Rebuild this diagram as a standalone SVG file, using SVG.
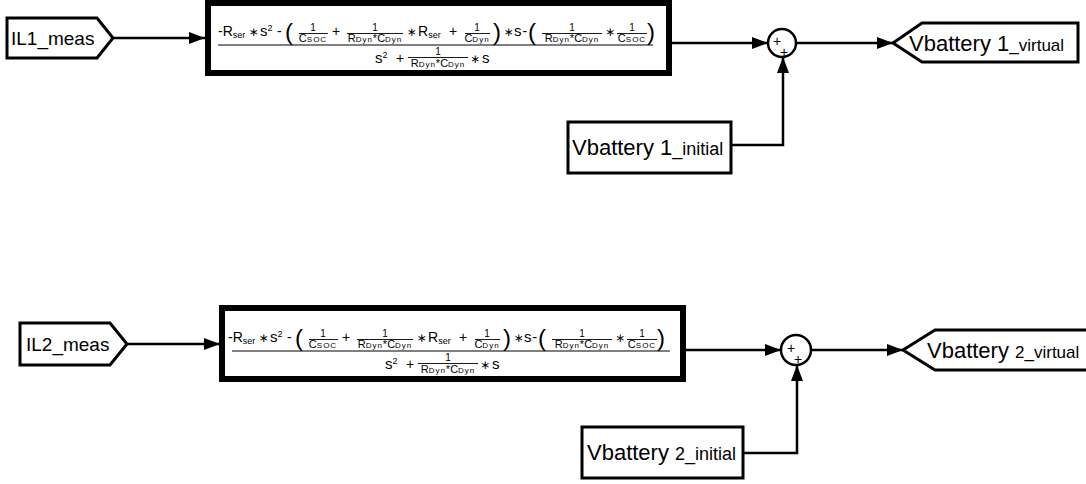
<svg xmlns="http://www.w3.org/2000/svg" width="1086" height="484" viewBox="0 0 1086 484">
<defs>
<style>
.nd{fill:#fff;stroke:#000;stroke-width:3;stroke-linejoin:miter}
.tf{fill:#fff;stroke:#000;stroke-width:6}
.cn{fill:none;stroke:#000;stroke-width:2.5}
.sum{fill:#fff;stroke:#000;stroke-width:2.5}
.lb{font-family:"Liberation Sans",Arial,sans-serif;fill:#000}
.f{font-family:"Liberation Sans",Arial,sans-serif;fill:#000;font-size:14px}
.s{font-family:"Liberation Sans",Arial,sans-serif;fill:#000;font-size:15px}
.as{font-family:"DejaVu Sans",sans-serif;fill:#000;font-size:12px;text-anchor:middle}
.sm{font-family:"Liberation Sans",Arial,sans-serif;fill:#000;font-size:11px;text-anchor:middle}
.one{font-family:"Liberation Sans",Arial,sans-serif;fill:#000;font-size:10px;text-anchor:middle}
.sb{font-size:8px;letter-spacing:1px}
.bar{stroke:#000;stroke-width:0.9}
.mbar{stroke:#000;stroke-width:1.2}
.par{font-family:"Liberation Sans",Arial,sans-serif;fill:#000;font-size:24px}
.pl{font-family:"Liberation Sans",Arial,sans-serif;fill:#000;font-size:14px;text-anchor:middle}
</style>
<marker id="ah" markerUnits="userSpaceOnUse" markerWidth="16" markerHeight="12" refX="16" refY="6" orient="auto">
<path d="M0,0 L16,6 L0,12 z" fill="#000"/>
</marker>
</defs>
<rect width="1086" height="484" fill="#fff"/>

<g id="connectors">
<path class="cn" d="M113,38 H205" marker-end="url(#ah)"/>
<path class="cn" d="M670,43 H768" marker-end="url(#ah)"/>
<path class="cn" d="M796,43 H893" marker-end="url(#ah)"/>
<path class="cn" d="M731,145 H783 V57" marker-end="url(#ah)"/>
<path class="cn" d="M127,344 H220" marker-end="url(#ah)"/>
<path class="cn" d="M684,350 H781" marker-end="url(#ah)"/>
<path class="cn" d="M811,350 H903" marker-end="url(#ah)"/>
<path class="cn" d="M743,453 H797 V365" marker-end="url(#ah)"/>
</g>

<g id="il1">
<path class="nd" d="M7,18 H97 L113,38 L97,58 H7 Z"/>
<text class="lb" x="11" y="45" font-size="19">IL1_meas</text>
</g>

<g id="tf1">
<rect class="tf" x="208" y="3" width="461" height="70"/>
<g id="eq1">
<text class="f" x="218" y="36">-R<tspan font-size="9" dy="2">ser</tspan></text>
<text class="as" x="253.5" y="36">∗</text>
<text class="s" x="260" y="36">s<tspan font-size="9" dy="-5">2</tspan></text>
<text class="f" x="277" y="36">-</text>
<text class="par" x="285" y="40">(</text>
<text class="one" x="313" y="31">1</text><line class="bar" x1="299" y1="33.5" x2="328" y2="33.5"/>
<text class="sm" x="313" y="42">C<tspan class="sb">SOC</tspan></text>
<text class="f" x="332" y="36">+</text>
<text class="one" x="375" y="31">1</text><line class="bar" x1="347" y1="33.5" x2="403" y2="33.5"/>
<text class="sm" x="375" y="42">R<tspan class="sb">Dyn</tspan>*C<tspan class="sb">Dyn</tspan></text>
<text class="as" x="411.5" y="36">∗</text>
<text class="f" x="418" y="36">R<tspan font-size="9" dy="2">ser</tspan></text>
<text class="f" x="449" y="36">+</text>
<text class="one" x="477" y="31">1</text><line class="bar" x1="465" y1="33.5" x2="490" y2="33.5"/>
<text class="sm" x="477" y="42">C<tspan class="sb">Dyn</tspan></text>
<text class="par" x="493" y="40">)</text>
<text class="as" x="508.5" y="36">∗</text>
<text class="s" x="514" y="36">s</text>
<text class="f" x="522.5" y="36">-</text>
<text class="par" x="528" y="40">(</text>
<text class="one" x="572" y="31">1</text><line class="bar" x1="542" y1="33.5" x2="602" y2="33.5"/>
<text class="sm" x="572" y="42">R<tspan class="sb">Dyn</tspan>*C<tspan class="sb">Dyn</tspan></text>
<text class="as" x="610" y="36">∗</text>
<text class="one" x="632" y="31">1</text><line class="bar" x1="617" y1="33.5" x2="647" y2="33.5"/>
<text class="sm" x="632" y="42">C<tspan class="sb">SOC</tspan></text>
<text class="par" x="647" y="40">)</text>
<line class="mbar" x1="218" y1="45" x2="653" y2="45"/>
<text class="s" x="375" y="63">s<tspan font-size="9" dy="-5">2</tspan></text>
<text class="f" x="396" y="63">+</text>
<text class="one" x="438" y="55">1</text><line class="bar" x1="408" y1="57.5" x2="468" y2="57.5"/>
<text class="sm" x="438" y="67">R<tspan class="sb">Dyn</tspan>*C<tspan class="sb">Dyn</tspan></text>
<text class="as" x="475" y="63">∗</text>
<text class="s" x="482" y="63">s</text>
</g>
</g>

<g id="sum1">
<circle class="sum" cx="782" cy="43" r="14"/>
<text class="pl" x="777" y="46">+</text>
<text class="pl" x="784" y="57">+</text>
</g>

<g id="out1">
<path class="nd" d="M893,43 L922,23 H1078 V62 H922 Z"/>
<text class="lb" x="909" y="51" font-size="22">Vbattery 1<tspan font-size="17">_virtual</tspan></text>
</g>

<g id="init1">
<rect class="nd" x="568" y="122" width="163" height="51"/>
<text class="lb" x="572" y="155" font-size="22">Vbattery 1<tspan font-size="18">_initial</tspan></text>
</g>

<g id="il2">
<path class="nd" d="M20,323 H110 L127,344 L110,365 H20 Z"/>
<text class="lb" x="26" y="351" font-size="19">IL2_meas</text>
</g>

<g id="tf2">
<rect class="tf" x="222" y="308" width="461" height="71"/>
<g transform="translate(10,306)">
<text class="f" x="218" y="36">-R<tspan font-size="9" dy="2">ser</tspan></text>
<text class="as" x="253.5" y="36">∗</text>
<text class="s" x="260" y="36">s<tspan font-size="9" dy="-5">2</tspan></text>
<text class="f" x="277" y="36">-</text>
<text class="par" x="285" y="40">(</text>
<text class="one" x="313" y="31">1</text><line class="bar" x1="299" y1="33.5" x2="328" y2="33.5"/>
<text class="sm" x="313" y="42">C<tspan class="sb">SOC</tspan></text>
<text class="f" x="332" y="36">+</text>
<text class="one" x="375" y="31">1</text><line class="bar" x1="347" y1="33.5" x2="403" y2="33.5"/>
<text class="sm" x="375" y="42">R<tspan class="sb">Dyn</tspan>*C<tspan class="sb">Dyn</tspan></text>
<text class="as" x="411.5" y="36">∗</text>
<text class="f" x="418" y="36">R<tspan font-size="9" dy="2">ser</tspan></text>
<text class="f" x="449" y="36">+</text>
<text class="one" x="477" y="31">1</text><line class="bar" x1="465" y1="33.5" x2="490" y2="33.5"/>
<text class="sm" x="477" y="42">C<tspan class="sb">Dyn</tspan></text>
<text class="par" x="493" y="40">)</text>
<text class="as" x="508.5" y="36">∗</text>
<text class="s" x="514" y="36">s</text>
<text class="f" x="522.5" y="36">-</text>
<text class="par" x="528" y="40">(</text>
<text class="one" x="572" y="31">1</text><line class="bar" x1="542" y1="33.5" x2="602" y2="33.5"/>
<text class="sm" x="572" y="42">R<tspan class="sb">Dyn</tspan>*C<tspan class="sb">Dyn</tspan></text>
<text class="as" x="610" y="36">∗</text>
<text class="one" x="632" y="31">1</text><line class="bar" x1="617" y1="33.5" x2="647" y2="33.5"/>
<text class="sm" x="632" y="42">C<tspan class="sb">SOC</tspan></text>
<text class="par" x="647" y="40">)</text>
<line class="mbar" x1="222" y1="45" x2="660" y2="45"/>
<text class="s" x="375" y="63">s<tspan font-size="9" dy="-5">2</tspan></text>
<text class="f" x="396" y="63">+</text>
<text class="one" x="438" y="55">1</text><line class="bar" x1="408" y1="57.5" x2="468" y2="57.5"/>
<text class="sm" x="438" y="67">R<tspan class="sb">Dyn</tspan>*C<tspan class="sb">Dyn</tspan></text>
<text class="as" x="475" y="63">∗</text>
<text class="s" x="482" y="63">s</text>
</g>
</g>

<g id="sum2">
<circle class="sum" cx="796" cy="350" r="15"/>
<text class="pl" x="791" y="353">+</text>
<text class="pl" x="798" y="364">+</text>
</g>

<g id="out2">
<path class="nd" d="M903,350 L935,330 H1092 V370 H935 Z"/>
<text class="lb" x="927" y="358" font-size="22">Vbattery <tspan font-size="17">2_virtual</tspan></text>
</g>

<g id="init2">
<rect class="nd" x="582" y="427" width="161" height="51"/>
<text class="lb" x="587" y="460" font-size="22">Vbattery <tspan font-size="18">2_initial</tspan></text>
</g>
</svg>
